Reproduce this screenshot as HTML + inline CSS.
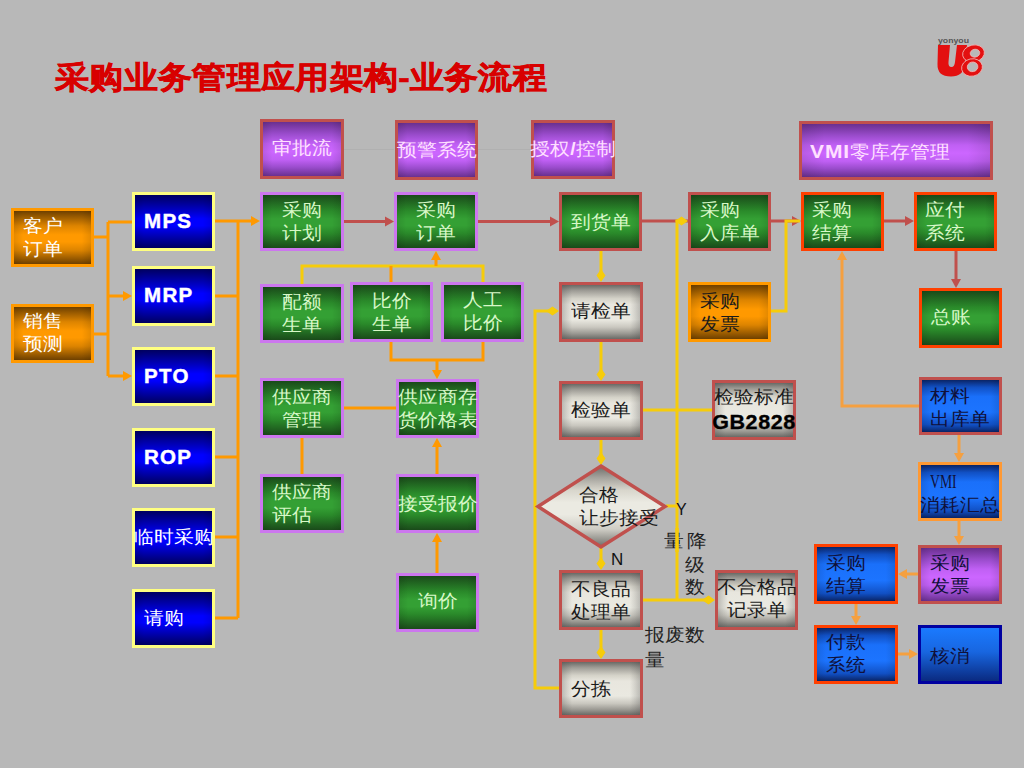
<!DOCTYPE html>
<html><head><meta charset="utf-8"><style>
html,body{margin:0;padding:0;}
body{-webkit-font-smoothing:antialiased;width:1024px;height:768px;overflow:hidden;background:#b8b8b8;position:relative;font-family:'Liberation Sans', sans-serif;}
.bx{position:absolute;box-sizing:content-box;}
.tx{position:absolute;white-space:nowrap;line-height:23px;font-family:'Liberation Sans', sans-serif;}
.cj{line-height:25.3px;transform:scaleY(0.91);transform-origin:0 0;}
.ov{position:absolute;left:0;top:0;}
.lat{font-size:20.5px;letter-spacing:1.3px;-webkit-text-stroke:0.45px #fff;}
.gb{font-size:21.5px;letter-spacing:0.6px;color:#000;position:relative;top:2.5px;-webkit-text-stroke:0.35px #000;}
.ser{font-family:'Liberation Serif',serif;}
</style></head><body>
<div class="tx" style="left:55px;top:59px;font-size:33px;font-weight:bold;color:#d80000;line-height:40px;-webkit-text-stroke:0.7px #d80000;transform-origin:0 0;transform:scale(1.04,0.95)">采购业务管理应用架构-业务流程</div>
<svg class="ov" width="1024" height="768" viewBox="0 0 1024 768">
<line x1="344" y1="149.5" x2="394" y2="149.5" stroke="#b0b0b0" stroke-width="1"/>
<line x1="478" y1="149.5" x2="531" y2="149.5" stroke="#b0b0b0" stroke-width="1"/>
<polyline points="94.0,237.0 108.0,237.0" fill="none" stroke="#ff9900" stroke-width="3" stroke-linejoin="miter" stroke-linecap="butt"/>
<polyline points="94.0,334.0 108.0,334.0" fill="none" stroke="#ff9900" stroke-width="3" stroke-linejoin="miter" stroke-linecap="butt"/>
<polyline points="108.0,222.0 108.0,376.0" fill="none" stroke="#ff9900" stroke-width="3" stroke-linejoin="miter" stroke-linecap="butt"/>
<polyline points="108.0,222.0 132.0,222.0" fill="none" stroke="#ff9900" stroke-width="3" stroke-linejoin="miter" stroke-linecap="butt"/>
<polyline points="108.0,296.0 124.0,296.0" fill="none" stroke="#ff9900" stroke-width="3" stroke-linejoin="miter" stroke-linecap="butt"/>
<polygon points="132.0,296.0 123.0,301.0 123.0,291.0" fill="#ff9900"/>
<polyline points="108.0,376.0 124.0,376.0" fill="none" stroke="#ff9900" stroke-width="3" stroke-linejoin="miter" stroke-linecap="butt"/>
<polygon points="132.0,376.0 123.0,381.0 123.0,371.0" fill="#ff9900"/>
<polyline points="215.0,221.0 238.0,221.0" fill="none" stroke="#ff9900" stroke-width="3" stroke-linejoin="miter" stroke-linecap="butt"/>
<polyline points="215.0,296.0 238.0,296.0" fill="none" stroke="#ff9900" stroke-width="3" stroke-linejoin="miter" stroke-linecap="butt"/>
<polyline points="215.0,376.0 238.0,376.0" fill="none" stroke="#ff9900" stroke-width="3" stroke-linejoin="miter" stroke-linecap="butt"/>
<polyline points="215.0,457.0 238.0,457.0" fill="none" stroke="#ff9900" stroke-width="3" stroke-linejoin="miter" stroke-linecap="butt"/>
<polyline points="215.0,537.0 238.0,537.0" fill="none" stroke="#ff9900" stroke-width="3" stroke-linejoin="miter" stroke-linecap="butt"/>
<polyline points="215.0,618.0 238.0,618.0" fill="none" stroke="#ff9900" stroke-width="3" stroke-linejoin="miter" stroke-linecap="butt"/>
<polyline points="238.0,221.0 238.0,618.0" fill="none" stroke="#ff9900" stroke-width="3" stroke-linejoin="miter" stroke-linecap="butt"/>
<polyline points="238.0,221.0 252.0,221.0" fill="none" stroke="#ff9900" stroke-width="3" stroke-linejoin="miter" stroke-linecap="butt"/>
<polygon points="260.0,221.0 251.0,226.0 251.0,216.0" fill="#ff9900"/>
<polyline points="344.0,221.5 386.0,221.5" fill="none" stroke="#c0504d" stroke-width="3" stroke-linejoin="miter" stroke-linecap="butt"/>
<polygon points="394.0,221.5 385.0,226.5 385.0,216.5" fill="#c0504d"/>
<polyline points="478.0,221.5 551.0,221.5" fill="none" stroke="#c0504d" stroke-width="3" stroke-linejoin="miter" stroke-linecap="butt"/>
<polygon points="559.0,221.5 550.0,226.5 550.0,216.5" fill="#c0504d"/>
<polyline points="642.0,221.0 688.0,221.0" fill="none" stroke="#c0504d" stroke-width="3" stroke-linejoin="miter" stroke-linecap="butt"/>
<polyline points="771.0,221.0 793.0,221.0" fill="none" stroke="#c0504d" stroke-width="3" stroke-linejoin="miter" stroke-linecap="butt"/>
<polygon points="801.0,221.0 792.0,226.0 792.0,216.0" fill="#c0504d"/>
<polyline points="884.0,221.0 906.0,221.0" fill="none" stroke="#c0504d" stroke-width="3" stroke-linejoin="miter" stroke-linecap="butt"/>
<polygon points="914.0,221.0 905.0,226.0 905.0,216.0" fill="#c0504d"/>
<polyline points="956.0,251.0 956.0,280.0" fill="none" stroke="#c0504d" stroke-width="3" stroke-linejoin="miter" stroke-linecap="butt"/>
<polygon points="956.0,288.0 951.0,279.0 961.0,279.0" fill="#c0504d"/>
<polyline points="677.0,600.0 677.0,221.0 681.5,221.0" fill="none" stroke="#f6cc0a" stroke-width="3" stroke-linejoin="miter" stroke-linecap="butt"/>
<polygon points="688.0,221.0 681.5,225.5 675.0,221.0 681.5,216.5" fill="#f6cc0a"/>
<polyline points="771.0,311.0 786.0,311.0 786.0,221.0 800.0,221.0" fill="none" stroke="#f6cc0a" stroke-width="3" stroke-linejoin="miter" stroke-linecap="butt"/>
<polyline points="601.0,251.0 601.0,275.5" fill="none" stroke="#f6cc0a" stroke-width="3" stroke-linejoin="miter" stroke-linecap="butt"/>
<polygon points="601.0,282.0 596.5,275.5 601.0,269.0 605.5,275.5" fill="#f6cc0a"/>
<polyline points="601.0,342.0 601.0,374.5" fill="none" stroke="#f6cc0a" stroke-width="3" stroke-linejoin="miter" stroke-linecap="butt"/>
<polygon points="601.0,381.0 596.5,374.5 601.0,368.0 605.5,374.5" fill="#f6cc0a"/>
<polyline points="601.0,440.0 601.0,458.5" fill="none" stroke="#f6cc0a" stroke-width="3" stroke-linejoin="miter" stroke-linecap="butt"/>
<polygon points="601.0,465.0 596.5,458.5 601.0,452.0 605.5,458.5" fill="#f6cc0a"/>
<polyline points="601.0,548.0 601.0,563.5" fill="none" stroke="#f6cc0a" stroke-width="3" stroke-linejoin="miter" stroke-linecap="butt"/>
<polygon points="601.0,570.0 596.5,563.5 601.0,557.0 605.5,563.5" fill="#f6cc0a"/>
<polyline points="601.0,630.0 601.0,652.5" fill="none" stroke="#f6cc0a" stroke-width="3" stroke-linejoin="miter" stroke-linecap="butt"/>
<polygon points="601.0,659.0 596.5,652.5 601.0,646.0 605.5,652.5" fill="#f6cc0a"/>
<polyline points="559.0,688.0 535.0,688.0 535.0,311.0 552.5,311.0" fill="none" stroke="#f6cc0a" stroke-width="3" stroke-linejoin="miter" stroke-linecap="butt"/>
<polygon points="559.0,311.0 552.5,315.5 546.0,311.0 552.5,306.5" fill="#f6cc0a"/>
<polyline points="643.0,410.0 712.0,410.0" fill="none" stroke="#f6cc0a" stroke-width="3" stroke-linejoin="miter" stroke-linecap="butt"/>
<polyline points="666.0,506.0 677.0,506.0" fill="none" stroke="#f6cc0a" stroke-width="3" stroke-linejoin="miter" stroke-linecap="butt"/>
<polyline points="643.0,600.0 708.5,600.0" fill="none" stroke="#f6cc0a" stroke-width="3" stroke-linejoin="miter" stroke-linecap="butt"/>
<polygon points="715.0,600.0 708.5,604.5 702.0,600.0 708.5,595.5" fill="#f6cc0a"/>
<polyline points="302.0,284.0 302.0,266.0 483.0,266.0 483.0,282.0" fill="none" stroke="#f6cc0a" stroke-width="3" stroke-linejoin="miter" stroke-linecap="butt"/>
<polyline points="391.0,282.0 391.0,266.0" fill="none" stroke="#ff9900" stroke-width="3" stroke-linejoin="miter" stroke-linecap="butt"/>
<polyline points="436.0,266.0 436.0,259.0" fill="none" stroke="#ff9900" stroke-width="3" stroke-linejoin="miter" stroke-linecap="butt"/>
<polygon points="436.0,251.0 441.0,260.0 431.0,260.0" fill="#ff9900"/>
<polyline points="391.0,342.0 391.0,360.0 483.0,360.0 483.0,342.0" fill="none" stroke="#ff9900" stroke-width="3" stroke-linejoin="miter" stroke-linecap="butt"/>
<polyline points="437.0,360.0 437.0,371.0" fill="none" stroke="#ff9900" stroke-width="3" stroke-linejoin="miter" stroke-linecap="butt"/>
<polygon points="437.0,379.0 432.0,370.0 442.0,370.0" fill="#ff9900"/>
<polyline points="344.0,408.0 396.0,408.0" fill="none" stroke="#ff9900" stroke-width="3" stroke-linejoin="miter" stroke-linecap="butt"/>
<polyline points="302.0,438.0 302.0,474.0" fill="none" stroke="#ff9900" stroke-width="3" stroke-linejoin="miter" stroke-linecap="butt"/>
<polyline points="437.0,474.0 437.0,446.0" fill="none" stroke="#ff9900" stroke-width="3" stroke-linejoin="miter" stroke-linecap="butt"/>
<polygon points="437.0,438.0 442.0,447.0 432.0,447.0" fill="#ff9900"/>
<polyline points="437.0,573.0 437.0,541.0" fill="none" stroke="#ff9900" stroke-width="3" stroke-linejoin="miter" stroke-linecap="butt"/>
<polygon points="437.0,533.0 442.0,542.0 432.0,542.0" fill="#ff9900"/>
<polyline points="919.0,406.0 842.0,406.0 842.0,259.0" fill="none" stroke="#f5a040" stroke-width="3" stroke-linejoin="miter" stroke-linecap="butt"/>
<polygon points="842.0,251.0 847.0,260.0 837.0,260.0" fill="#f5a040"/>
<polyline points="959.0,435.0 959.0,454.0" fill="none" stroke="#f5a040" stroke-width="3" stroke-linejoin="miter" stroke-linecap="butt"/>
<polygon points="959.0,462.0 954.0,453.0 964.0,453.0" fill="#f5a040"/>
<polyline points="959.0,521.0 959.0,537.0" fill="none" stroke="#f5a040" stroke-width="3" stroke-linejoin="miter" stroke-linecap="butt"/>
<polygon points="959.0,545.0 954.0,536.0 964.0,536.0" fill="#f5a040"/>
<polyline points="918.0,574.0 906.0,574.0" fill="none" stroke="#f5a040" stroke-width="3" stroke-linejoin="miter" stroke-linecap="butt"/>
<polygon points="898.0,574.0 907.0,569.0 907.0,579.0" fill="#f5a040"/>
<polyline points="856.0,604.0 856.0,617.0" fill="none" stroke="#f5a040" stroke-width="3" stroke-linejoin="miter" stroke-linecap="butt"/>
<polygon points="856.0,625.0 851.0,616.0 861.0,616.0" fill="#f5a040"/>
<polyline points="898.0,654.0 910.0,654.0" fill="none" stroke="#f5a040" stroke-width="3" stroke-linejoin="miter" stroke-linecap="butt"/>
<polygon points="918.0,654.0 909.0,659.0 909.0,649.0" fill="#f5a040"/>
</svg>
<div class="bx" style="left:260px;top:119px;width:78px;height:54px;border:3px solid #c0504d;background:linear-gradient(to right,rgba(0,0,0,0.10) 0%,rgba(0,0,0,0) 12%,rgba(0,0,0,0) 88%,rgba(0,0,0,0.10) 100%),linear-gradient(to bottom,#6a3090 0%,#9a4ccc 22%,#c060f4 40%,#cc66ff 55%,#c060f4 70%,#9a4ccc 84%,#6a3090 100%)"></div>
<div class="tx cj" style="left:240px;top:137px;width:124px;text-align:center;color:#ffe0ff;font-size:19.5px">审批流</div>
<div class="bx" style="left:395px;top:120px;width:77px;height:54px;border:3px solid #c0504d;background:linear-gradient(to right,rgba(0,0,0,0.10) 0%,rgba(0,0,0,0) 12%,rgba(0,0,0,0) 88%,rgba(0,0,0,0.10) 100%),linear-gradient(to bottom,#6a3090 0%,#9a4ccc 22%,#c060f4 40%,#cc66ff 55%,#c060f4 70%,#9a4ccc 84%,#6a3090 100%)"></div>
<div class="tx cj" style="left:375px;top:139px;width:123px;text-align:center;color:#ffe0ff;font-size:19.5px">预警系统</div>
<div class="bx" style="left:531px;top:120px;width:78px;height:53px;border:3px solid #c0504d;background:linear-gradient(to right,rgba(0,0,0,0.10) 0%,rgba(0,0,0,0) 12%,rgba(0,0,0,0) 88%,rgba(0,0,0,0.10) 100%),linear-gradient(to bottom,#6a3090 0%,#9a4ccc 22%,#c060f4 40%,#cc66ff 55%,#c060f4 70%,#9a4ccc 84%,#6a3090 100%)"></div>
<div class="tx cj" style="left:511px;top:138px;width:124px;text-align:center;color:#ffe0ff;font-size:19.5px">授权<b>/</b>控制</div>
<div class="bx" style="left:799px;top:121px;width:188px;height:53px;border:3px solid #c0504d;background:linear-gradient(to right,rgba(0,0,0,0.10) 0%,rgba(0,0,0,0) 12%,rgba(0,0,0,0) 88%,rgba(0,0,0,0.10) 100%),linear-gradient(to bottom,#6a3090 0%,#9a4ccc 22%,#c060f4 40%,#cc66ff 55%,#c060f4 70%,#9a4ccc 84%,#6a3090 100%)"></div>
<div class="tx cj" style="left:810px;top:140px;color:#ffe0ff;font-size:19.5px"><b style="font-size:21px;letter-spacing:0.9px">VMI</b>零库存管理</div>
<div class="bx" style="left:11px;top:208px;width:77px;height:53px;border:3px solid #ff9900;background:linear-gradient(to right,rgba(0,0,0,0.10) 0%,rgba(0,0,0,0) 12%,rgba(0,0,0,0) 88%,rgba(0,0,0,0.10) 100%),linear-gradient(to bottom,#6e4000 0%,#dd8400 28%,#ff9900 45%,#ff9900 58%,#dd8400 74%,#6e4000 100%)"></div>
<div class="tx cj" style="left:23px;top:215px;color:#ffffff;font-size:19.5px">客户<br>订单</div>
<div class="bx" style="left:11px;top:304px;width:77px;height:53px;border:3px solid #ff9900;background:linear-gradient(to right,rgba(0,0,0,0.10) 0%,rgba(0,0,0,0) 12%,rgba(0,0,0,0) 88%,rgba(0,0,0,0.10) 100%),linear-gradient(to bottom,#6e4000 0%,#dd8400 28%,#ff9900 45%,#ff9900 58%,#dd8400 74%,#6e4000 100%)"></div>
<div class="tx cj" style="left:23px;top:310px;color:#ffffff;font-size:19.5px">销售<br>预测</div>
<div class="bx" style="left:132px;top:192px;width:77px;height:53px;border:3px solid #ffff80;background:linear-gradient(to right,rgba(0,0,0,0.10) 0%,rgba(0,0,0,0) 12%,rgba(0,0,0,0) 88%,rgba(0,0,0,0.10) 100%),linear-gradient(to bottom,#000060 0%,#0000c8 30%,#0000ff 45%,#0000ff 58%,#0000c8 72%,#000060 100%)"></div>
<div class="tx" style="left:144px;top:209px;color:#ffffff;font-size:19.5px"><b class="lat">MPS</b></div>
<div class="bx" style="left:132px;top:266px;width:77px;height:54px;border:3px solid #ffff80;background:linear-gradient(to right,rgba(0,0,0,0.10) 0%,rgba(0,0,0,0) 12%,rgba(0,0,0,0) 88%,rgba(0,0,0,0.10) 100%),linear-gradient(to bottom,#000060 0%,#0000c8 30%,#0000ff 45%,#0000ff 58%,#0000c8 72%,#000060 100%)"></div>
<div class="tx" style="left:144px;top:283px;color:#ffffff;font-size:19.5px"><b class="lat">MRP</b></div>
<div class="bx" style="left:132px;top:347px;width:77px;height:53px;border:3px solid #ffff80;background:linear-gradient(to right,rgba(0,0,0,0.10) 0%,rgba(0,0,0,0) 12%,rgba(0,0,0,0) 88%,rgba(0,0,0,0.10) 100%),linear-gradient(to bottom,#000060 0%,#0000c8 30%,#0000ff 45%,#0000ff 58%,#0000c8 72%,#000060 100%)"></div>
<div class="tx" style="left:144px;top:364px;color:#ffffff;font-size:19.5px"><b class="lat">PTO</b></div>
<div class="bx" style="left:132px;top:428px;width:77px;height:53px;border:3px solid #ffff80;background:linear-gradient(to right,rgba(0,0,0,0.10) 0%,rgba(0,0,0,0) 12%,rgba(0,0,0,0) 88%,rgba(0,0,0,0.10) 100%),linear-gradient(to bottom,#000060 0%,#0000c8 30%,#0000ff 45%,#0000ff 58%,#0000c8 72%,#000060 100%)"></div>
<div class="tx" style="left:144px;top:445px;color:#ffffff;font-size:19.5px"><b class="lat">ROP</b></div>
<div class="bx" style="left:132px;top:508px;width:77px;height:53px;border:3px solid #ffff80;background:linear-gradient(to right,rgba(0,0,0,0.10) 0%,rgba(0,0,0,0) 12%,rgba(0,0,0,0) 88%,rgba(0,0,0,0.10) 100%),linear-gradient(to bottom,#000060 0%,#0000c8 30%,#0000ff 45%,#0000ff 58%,#0000c8 72%,#000060 100%)"></div>
<div class="tx cj" style="left:112px;top:526px;width:123px;text-align:center;color:#ffffff;font-size:19.5px">临时采购</div>
<div class="bx" style="left:132px;top:589px;width:77px;height:53px;border:3px solid #ffff80;background:linear-gradient(to right,rgba(0,0,0,0.10) 0%,rgba(0,0,0,0) 12%,rgba(0,0,0,0) 88%,rgba(0,0,0,0.10) 100%),linear-gradient(to bottom,#000060 0%,#0000c8 30%,#0000ff 45%,#0000ff 58%,#0000c8 72%,#000060 100%)"></div>
<div class="tx cj" style="left:144px;top:607px;color:#ffffff;font-size:19.5px">请购</div>
<div class="bx" style="left:260px;top:192px;width:78px;height:53px;border:3px solid #cc77ee;background:linear-gradient(to right,rgba(0,0,0,0.10) 0%,rgba(0,0,0,0) 12%,rgba(0,0,0,0) 88%,rgba(0,0,0,0.10) 100%),linear-gradient(to bottom,#1a4a1a 0%,#2a8a2a 30%,#34a034 45%,#34a034 58%,#2a8a2a 72%,#1a4a1a 100%)"></div>
<div class="tx cj" style="left:240px;top:199px;width:124px;text-align:center;color:#d8f8c8;font-size:19.5px">采购<br>计划</div>
<div class="bx" style="left:394px;top:192px;width:78px;height:53px;border:3px solid #cc77ee;background:linear-gradient(to right,rgba(0,0,0,0.10) 0%,rgba(0,0,0,0) 12%,rgba(0,0,0,0) 88%,rgba(0,0,0,0.10) 100%),linear-gradient(to bottom,#1a4a1a 0%,#2a8a2a 30%,#34a034 45%,#34a034 58%,#2a8a2a 72%,#1a4a1a 100%)"></div>
<div class="tx cj" style="left:374px;top:199px;width:124px;text-align:center;color:#d8f8c8;font-size:19.5px">采购<br>订单</div>
<div class="bx" style="left:260px;top:284px;width:78px;height:53px;border:3px solid #cc77ee;background:linear-gradient(to right,rgba(0,0,0,0.10) 0%,rgba(0,0,0,0) 12%,rgba(0,0,0,0) 88%,rgba(0,0,0,0.10) 100%),linear-gradient(to bottom,#1a4a1a 0%,#2a8a2a 30%,#34a034 45%,#34a034 58%,#2a8a2a 72%,#1a4a1a 100%)"></div>
<div class="tx cj" style="left:240px;top:291px;width:124px;text-align:center;color:#d8f8c8;font-size:19.5px">配额<br>生单</div>
<div class="bx" style="left:350px;top:282px;width:77px;height:54px;border:3px solid #cc77ee;background:linear-gradient(to right,rgba(0,0,0,0.10) 0%,rgba(0,0,0,0) 12%,rgba(0,0,0,0) 88%,rgba(0,0,0,0.10) 100%),linear-gradient(to bottom,#1a4a1a 0%,#2a8a2a 30%,#34a034 45%,#34a034 58%,#2a8a2a 72%,#1a4a1a 100%)"></div>
<div class="tx cj" style="left:330px;top:290px;width:123px;text-align:center;color:#d8f8c8;font-size:19.5px">比价<br>生单</div>
<div class="bx" style="left:441px;top:282px;width:77px;height:54px;border:3px solid #cc77ee;background:linear-gradient(to right,rgba(0,0,0,0.10) 0%,rgba(0,0,0,0) 12%,rgba(0,0,0,0) 88%,rgba(0,0,0,0.10) 100%),linear-gradient(to bottom,#1a4a1a 0%,#2a8a2a 30%,#34a034 45%,#34a034 58%,#2a8a2a 72%,#1a4a1a 100%)"></div>
<div class="tx cj" style="left:421px;top:289px;width:123px;text-align:center;color:#d8f8c8;font-size:19.5px">人工<br>比价</div>
<div class="bx" style="left:260px;top:378px;width:78px;height:54px;border:3px solid #cc77ee;background:linear-gradient(to right,rgba(0,0,0,0.10) 0%,rgba(0,0,0,0) 12%,rgba(0,0,0,0) 88%,rgba(0,0,0,0.10) 100%),linear-gradient(to bottom,#1a4a1a 0%,#2a8a2a 30%,#34a034 45%,#34a034 58%,#2a8a2a 72%,#1a4a1a 100%)"></div>
<div class="tx cj" style="left:240px;top:386px;width:124px;text-align:center;color:#d8f8c8;font-size:19.5px">供应商<br>管理</div>
<div class="bx" style="left:396px;top:379px;width:77px;height:53px;border:3px solid #cc77ee;background:linear-gradient(to right,rgba(0,0,0,0.10) 0%,rgba(0,0,0,0) 12%,rgba(0,0,0,0) 88%,rgba(0,0,0,0.10) 100%),linear-gradient(to bottom,#1a4a1a 0%,#2a8a2a 30%,#34a034 45%,#34a034 58%,#2a8a2a 72%,#1a4a1a 100%)"></div>
<div class="tx cj" style="left:376px;top:386px;width:123px;text-align:center;color:#d8f8c8;font-size:19.5px">供应商存<br>货价格表</div>
<div class="bx" style="left:260px;top:474px;width:78px;height:53px;border:3px solid #cc77ee;background:linear-gradient(to right,rgba(0,0,0,0.10) 0%,rgba(0,0,0,0) 12%,rgba(0,0,0,0) 88%,rgba(0,0,0,0.10) 100%),linear-gradient(to bottom,#1a4a1a 0%,#2a8a2a 30%,#34a034 45%,#34a034 58%,#2a8a2a 72%,#1a4a1a 100%)"></div>
<div class="tx cj" style="left:272px;top:481px;color:#d8f8c8;font-size:19.5px">供应商<br>评估</div>
<div class="bx" style="left:396px;top:474px;width:77px;height:53px;border:3px solid #cc77ee;background:linear-gradient(to right,rgba(0,0,0,0.10) 0%,rgba(0,0,0,0) 12%,rgba(0,0,0,0) 88%,rgba(0,0,0,0.10) 100%),linear-gradient(to bottom,#1a4a1a 0%,#2a8a2a 30%,#34a034 45%,#34a034 58%,#2a8a2a 72%,#1a4a1a 100%)"></div>
<div class="tx cj" style="left:376px;top:493px;width:123px;text-align:center;color:#d8f8c8;font-size:19.5px">接受报价</div>
<div class="bx" style="left:396px;top:573px;width:77px;height:53px;border:3px solid #cc77ee;background:linear-gradient(to right,rgba(0,0,0,0.10) 0%,rgba(0,0,0,0) 12%,rgba(0,0,0,0) 88%,rgba(0,0,0,0.10) 100%),linear-gradient(to bottom,#1a4a1a 0%,#2a8a2a 30%,#34a034 45%,#34a034 58%,#2a8a2a 72%,#1a4a1a 100%)"></div>
<div class="tx cj" style="left:376px;top:590px;width:123px;text-align:center;color:#d8f8c8;font-size:19.5px">询价</div>
<div class="bx" style="left:559px;top:192px;width:77px;height:53px;border:3px solid #c0504d;background:linear-gradient(to right,rgba(0,0,0,0.10) 0%,rgba(0,0,0,0) 12%,rgba(0,0,0,0) 88%,rgba(0,0,0,0.10) 100%),linear-gradient(to bottom,#1a4a1a 0%,#2a8a2a 30%,#34a034 45%,#34a034 58%,#2a8a2a 72%,#1a4a1a 100%)"></div>
<div class="tx cj" style="left:539px;top:211px;width:123px;text-align:center;color:#d8f8c8;font-size:19.5px">到货单</div>
<div class="bx" style="left:688px;top:192px;width:77px;height:53px;border:3px solid #c0504d;background:linear-gradient(to right,rgba(0,0,0,0.10) 0%,rgba(0,0,0,0) 12%,rgba(0,0,0,0) 88%,rgba(0,0,0,0.10) 100%),linear-gradient(to bottom,#1a4a1a 0%,#2a8a2a 30%,#34a034 45%,#34a034 58%,#2a8a2a 72%,#1a4a1a 100%)"></div>
<div class="tx cj" style="left:700px;top:199px;color:#d8f8c8;font-size:19.5px">采购<br>入库单</div>
<div class="bx" style="left:801px;top:192px;width:77px;height:53px;border:3px solid #ff4000;background:linear-gradient(to right,rgba(0,0,0,0.10) 0%,rgba(0,0,0,0) 12%,rgba(0,0,0,0) 88%,rgba(0,0,0,0.10) 100%),linear-gradient(to bottom,#1a4a1a 0%,#2a8a2a 30%,#34a034 45%,#34a034 58%,#2a8a2a 72%,#1a4a1a 100%)"></div>
<div class="tx cj" style="left:812px;top:199px;color:#d8f8c8;font-size:19.5px">采购<br>结算</div>
<div class="bx" style="left:914px;top:192px;width:77px;height:53px;border:3px solid #ff4000;background:linear-gradient(to right,rgba(0,0,0,0.10) 0%,rgba(0,0,0,0) 12%,rgba(0,0,0,0) 88%,rgba(0,0,0,0.10) 100%),linear-gradient(to bottom,#1a4a1a 0%,#2a8a2a 30%,#34a034 45%,#34a034 58%,#2a8a2a 72%,#1a4a1a 100%)"></div>
<div class="tx cj" style="left:925px;top:199px;color:#d8f8c8;font-size:19.5px">应付<br>系统</div>
<div class="bx" style="left:919px;top:288px;width:77px;height:54px;border:3px solid #ff4000;background:linear-gradient(to right,rgba(0,0,0,0.10) 0%,rgba(0,0,0,0) 12%,rgba(0,0,0,0) 88%,rgba(0,0,0,0.10) 100%),linear-gradient(to bottom,#1a4a1a 0%,#2a8a2a 30%,#34a034 45%,#34a034 58%,#2a8a2a 72%,#1a4a1a 100%)"></div>
<div class="tx cj" style="left:931px;top:306px;color:#d8f8c8;font-size:19.5px">总账</div>
<div class="bx" style="left:559px;top:282px;width:78px;height:54px;border:3px solid #c0504d;background:linear-gradient(to right,rgba(70,70,70,0.28) 0%,rgba(70,70,70,0.12) 7%,rgba(0,0,0,0) 13%,rgba(0,0,0,0) 87%,rgba(70,70,70,0.12) 93%,rgba(70,70,70,0.28) 100%),linear-gradient(to bottom,#6a6a66 0%,#9c9a94 10%,#d4d2c8 25%,#e8e6de 36%,#eae9e1 64%,#cac8c0 78%,#9a9892 90%,#6a6a66 100%)"></div>
<div class="tx cj" style="left:539px;top:300px;width:124px;text-align:center;color:#1a1a1a;font-size:19.5px">请检单</div>
<div class="bx" style="left:559px;top:381px;width:78px;height:53px;border:3px solid #c0504d;background:linear-gradient(to right,rgba(70,70,70,0.28) 0%,rgba(70,70,70,0.12) 7%,rgba(0,0,0,0) 13%,rgba(0,0,0,0) 87%,rgba(70,70,70,0.12) 93%,rgba(70,70,70,0.28) 100%),linear-gradient(to bottom,#6a6a66 0%,#9c9a94 10%,#d4d2c8 25%,#e8e6de 36%,#eae9e1 64%,#cac8c0 78%,#9a9892 90%,#6a6a66 100%)"></div>
<div class="tx cj" style="left:539px;top:399px;width:124px;text-align:center;color:#1a1a1a;font-size:19.5px">检验单</div>
<div class="bx" style="left:712px;top:380px;width:78px;height:54px;border:3px solid #c0504d;background:linear-gradient(to right,rgba(70,70,70,0.28) 0%,rgba(70,70,70,0.12) 7%,rgba(0,0,0,0) 13%,rgba(0,0,0,0) 87%,rgba(70,70,70,0.12) 93%,rgba(70,70,70,0.28) 100%),linear-gradient(to bottom,#6a6a66 0%,#9c9a94 10%,#d4d2c8 25%,#e8e6de 36%,#eae9e1 64%,#cac8c0 78%,#9a9892 90%,#6a6a66 100%)"></div>
<div class="tx cj" style="left:692px;top:386px;width:124px;text-align:center;color:#1a1a1a;font-size:19.5px">检验标准<br><b class="gb">GB2828</b></div>
<div class="bx" style="left:559px;top:570px;width:78px;height:54px;border:3px solid #c0504d;background:linear-gradient(to right,rgba(70,70,70,0.28) 0%,rgba(70,70,70,0.12) 7%,rgba(0,0,0,0) 13%,rgba(0,0,0,0) 87%,rgba(70,70,70,0.12) 93%,rgba(70,70,70,0.28) 100%),linear-gradient(to bottom,#6a6a66 0%,#9c9a94 10%,#d4d2c8 25%,#e8e6de 36%,#eae9e1 64%,#cac8c0 78%,#9a9892 90%,#6a6a66 100%)"></div>
<div class="tx cj" style="left:539px;top:578px;width:124px;text-align:center;color:#1a1a1a;font-size:19.5px">不良品<br>处理单</div>
<div class="bx" style="left:715px;top:570px;width:77px;height:54px;border:3px solid #c0504d;background:linear-gradient(to right,rgba(70,70,70,0.28) 0%,rgba(70,70,70,0.12) 7%,rgba(0,0,0,0) 13%,rgba(0,0,0,0) 87%,rgba(70,70,70,0.12) 93%,rgba(70,70,70,0.28) 100%),linear-gradient(to bottom,#6a6a66 0%,#9c9a94 10%,#d4d2c8 25%,#e8e6de 36%,#eae9e1 64%,#cac8c0 78%,#9a9892 90%,#6a6a66 100%)"></div>
<div class="tx cj" style="left:695px;top:576px;width:123px;text-align:center;color:#1a1a1a;font-size:19.5px">不合格品<br>记录单</div>
<div class="bx" style="left:559px;top:659px;width:78px;height:53px;border:3px solid #c0504d;background:linear-gradient(to right,rgba(70,70,70,0.28) 0%,rgba(70,70,70,0.12) 7%,rgba(0,0,0,0) 13%,rgba(0,0,0,0) 87%,rgba(70,70,70,0.12) 93%,rgba(70,70,70,0.28) 100%),linear-gradient(to bottom,#6a6a66 0%,#9c9a94 10%,#d4d2c8 25%,#e8e6de 36%,#eae9e1 64%,#cac8c0 78%,#9a9892 90%,#6a6a66 100%)"></div>
<div class="tx cj" style="left:571px;top:678px;color:#1a1a1a;font-size:19.5px">分拣</div>
<div class="bx" style="left:688px;top:282px;width:77px;height:54px;border:3px solid #ff9900;background:linear-gradient(to right,rgba(0,0,0,0.10) 0%,rgba(0,0,0,0) 12%,rgba(0,0,0,0) 88%,rgba(0,0,0,0.10) 100%),linear-gradient(to bottom,#6e4000 0%,#dd8400 28%,#ff9900 45%,#ff9900 58%,#dd8400 74%,#6e4000 100%)"></div>
<div class="tx cj" style="left:700px;top:290px;color:#1a1a1a;font-size:19.5px">采购<br>发票</div>
<div class="bx" style="left:919px;top:377px;width:77px;height:52px;border:3px solid #c0504d;background:linear-gradient(to right,rgba(0,0,0,0.10) 0%,rgba(0,0,0,0) 12%,rgba(0,0,0,0) 88%,rgba(0,0,0,0.10) 100%),linear-gradient(to bottom,#0a2466 0%,#1150c4 14%,#1a70fa 32%,#1c74ff 62%,#1150c4 86%,#0a2466 100%)"></div>
<div class="tx cj" style="left:930px;top:385px;color:#10103a;font-size:19.5px">材料<br>出库单</div>
<div class="bx" style="left:918px;top:462px;width:78px;height:53px;border:3px solid #ff9933;background:linear-gradient(to right,rgba(0,0,0,0.10) 0%,rgba(0,0,0,0) 12%,rgba(0,0,0,0) 88%,rgba(0,0,0,0.10) 100%),linear-gradient(to bottom,#0a2466 0%,#1150c4 14%,#1a70fa 32%,#1c74ff 62%,#1150c4 86%,#0a2466 100%)"></div>
<div class="bx" style="left:814px;top:544px;width:78px;height:54px;border:3px solid #ff4000;background:linear-gradient(to right,rgba(0,0,0,0.10) 0%,rgba(0,0,0,0) 12%,rgba(0,0,0,0) 88%,rgba(0,0,0,0.10) 100%),linear-gradient(to bottom,#0a2466 0%,#1150c4 14%,#1a70fa 32%,#1c74ff 62%,#1150c4 86%,#0a2466 100%)"></div>
<div class="tx cj" style="left:826px;top:552px;color:#10103a;font-size:19.5px">采购<br>结算</div>
<div class="bx" style="left:918px;top:545px;width:78px;height:53px;border:3px solid #c0504d;background:linear-gradient(to right,rgba(0,0,0,0.10) 0%,rgba(0,0,0,0) 12%,rgba(0,0,0,0) 88%,rgba(0,0,0,0.10) 100%),linear-gradient(to bottom,#6a3090 0%,#9a4ccc 22%,#c060f4 40%,#cc66ff 55%,#c060f4 70%,#9a4ccc 84%,#6a3090 100%)"></div>
<div class="tx cj" style="left:930px;top:552px;color:#10103a;font-size:19.5px">采购<br>发票</div>
<div class="bx" style="left:814px;top:625px;width:78px;height:53px;border:3px solid #ff4000;background:linear-gradient(to right,rgba(0,0,0,0.10) 0%,rgba(0,0,0,0) 12%,rgba(0,0,0,0) 88%,rgba(0,0,0,0.10) 100%),linear-gradient(to bottom,#0a2466 0%,#1150c4 14%,#1a70fa 32%,#1c74ff 62%,#1150c4 86%,#0a2466 100%)"></div>
<div class="tx cj" style="left:826px;top:631px;color:#10103a;font-size:19.5px">付款<br>系统</div>
<div class="bx" style="left:918px;top:625px;width:78px;height:53px;border:3px solid #0000a0;background:linear-gradient(to bottom,#1a7aff 0%,#1866e0 45%,#0a2a80 100%)"></div>
<div class="tx cj" style="left:930px;top:645px;color:#10103a;font-size:19.5px">核消</div>
<svg class="ov" width="1024" height="768" viewBox="0 0 1024 768">
<defs><linearGradient id="sg" x1="0" y1="0" x2="0" y2="1">
<stop offset="0" stop-color="#6c6c68"/><stop offset="0.14" stop-color="#a4a29c"/><stop offset="0.3" stop-color="#d8d6cc"/><stop offset="0.45" stop-color="#ebeae2"/><stop offset="0.6" stop-color="#ebeae2"/><stop offset="0.78" stop-color="#cfcdc5"/><stop offset="1" stop-color="#6c6c68"/></linearGradient></defs>
<polygon points="601,466 665,506.5 601,547 538,506.5" fill="url(#sg)" stroke="#c0504d" stroke-width="3.5"/>
</svg>
<div class="tx cj" style="left:579px;top:484px;font-size:19.5px;color:#1a1a1a">合格<br>让步接受</div>

<div class="tx" style="left:676px;top:498px;font-size:16px;color:#111">Y</div>
<div class="tx" style="left:611px;top:548px;font-size:17px;color:#111">N</div>
<div class="tx cj" style="left:664px;top:530px;font-size:19.5px;color:#222">量</div>
<div class="tx cj" style="left:687px;top:530px;font-size:19.5px;color:#222">降</div>
<div class="tx cj" style="left:685px;top:554px;font-size:19.5px;color:#222;line-height:24px">级<br>数</div>
<div class="tx" style="left:930px;top:470px;font-size:19px;color:#10103a;font-family:'Liberation Serif',serif;transform:scaleX(0.72);transform-origin:0 0">VMI</div>
<div class="tx cj" style="left:920px;top:494px;font-size:19.5px;color:#10103a">消耗汇总</div>
<div class="tx cj" style="left:645px;top:623px;font-size:19.5px;color:#222;line-height:27px">报废数<br>量</div>

<svg class="ov" width="1024" height="768" viewBox="0 0 1024 768">
<text x="938" y="43" font-family="Liberation Sans" font-weight="bold" font-size="8" fill="#555" textLength="31" lengthAdjust="spacingAndGlyphs">yonyou</text>
<path fill="#e31010" d="M938,45 L950,45 L948.5,62 Q948,67 951.5,67 Q954.5,67 955,62 L957,45 L967,45 L965,64 Q963.5,76.5 951,76.5 Q937,76.5 937.5,64 Z"/>
<g fill-rule="evenodd" fill="#e31010" stroke="#f0b8b8" stroke-width="0.8">
<path transform="rotate(-12 973.5 53.5)" d="M962.5,53.5 A11,8.5 0 1 1 984.5,53.5 A11,8.5 0 1 1 962.5,53.5 Z M970.2,53.5 A4.8,3.9 0 1 0 979.8,53.5 A4.8,3.9 0 1 0 970.2,53.5 Z"/>
<path transform="rotate(-12 972 67.5)" d="M961.5,67.5 A10.5,8.7 0 1 1 982.5,67.5 A10.5,8.7 0 1 1 961.5,67.5 Z M967.4,67 A5.3,4.8 0 1 0 978,67 A5.3,4.8 0 1 0 967.4,67 Z"/>
</g>
</svg>
<svg class="ov" width="1024" height="768"><line x1="677" y1="528" x2="677" y2="552" stroke="#f6cc0a" stroke-width="3.5"/></svg>
</body></html>
